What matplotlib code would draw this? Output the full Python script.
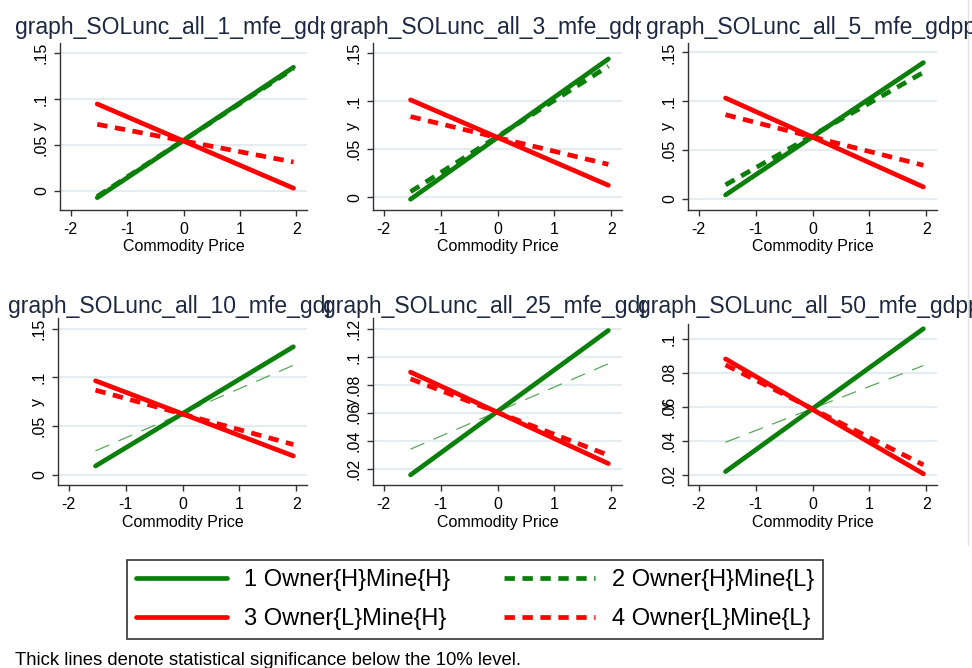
import matplotlib
matplotlib.use("Agg")
import matplotlib.pyplot as plt
from matplotlib.ticker import FixedLocator, FuncFormatter
from matplotlib.transforms import Bbox, TransformedBbox

plt.rcParams["font.family"] = ["Liberation Sans", "DejaVu Sans"]

# ---- data -------------------------------------------------------------
horizons = [1, 3, 5, 10, 25, 50]
price_range = [-1.53, 1.95]

# fitted y at the low / high end of the commodity price range
owner_h_mine_h = [(-0.0073, 0.1345), (-0.0020, 0.1440), (0.0041, 0.1395),
                  (0.0092, 0.1315), (0.0157, 0.1190), (0.0220, 0.1062)]
owner_h_mine_l = [(-0.0060, 0.1330), (0.0058, 0.1365), (0.0144, 0.1295),
                  (0.0247, 0.1125), (0.0341, 0.0952), (0.0393, 0.0845)]
owner_l_mine_h = [(0.0946, 0.0030), (0.1014, 0.0125), (0.1033, 0.0123),
                  (0.0966, 0.0195), (0.0892, 0.0238), (0.0884, 0.0207)]
owner_l_mine_l = [(0.0725, 0.0315), (0.0840, 0.0343), (0.0862, 0.0345),
                  (0.0870, 0.0312), (0.0844, 0.0298), (0.0849, 0.0260)]
# whether the Owner{H}Mine{L} effect is significant at 10%
hl_significant = [True, True, True, False, False, False]

y_ticks = [[0, 0.05, 0.10, 0.15]] * 4 + [[0.02, 0.04, 0.06, 0.08, 0.10, 0.12],
                                         [0.02, 0.04, 0.06, 0.08, 0.10]]
y_limits = [(-0.0207, 0.1609), (-0.0132, 0.1606), (-0.0113, 0.1596),
            (-0.0103, 0.1610), (0.0085, 0.1279), (0.0141, 0.1090)]
x_ticks = [-2, -1, 0, 1, 2]

series_labels = ["1 Owner{H}Mine{H}", "2 Owner{H}Mine{L}",
                 "3 Owner{L}Mine{H}", "4 Owner{L}Mine{L}"]

# ---- layout -----------------------------------------------------------
W, H = 972, 668
fig = plt.figure(figsize=(W / 100, H / 100), dpi=100)
fig.patch.set_facecolor("white")

# (left, top, right, bottom) in pixels
rects = [(60, 43, 307, 210), (373, 43, 622, 210), (688, 43, 937, 210),
         (58, 318, 307, 485), (373, 318, 622, 485), (688, 324, 937, 485)]
# title start x, baseline y, clip-left, clip-right
title_pos = [(15, 34, 0, 325), (330, 34, 326, 641), (646, 34, 642, 972),
             (8, 313, 0, 331), (323, 313, 316, 646), (638, 313, 632, 972)]

GREEN = "#0a800a"
GREEN_THIN = "#5aa85a"
RED = "#ff0000"
AXCOL = "#333333"
GRID = "#e4ecef"
TITLE_COL = "#1c2841"
THICK = 3.4
XLABEL_DROP = 37   # px from bottom spine to x-label centre
YLABEL_SHIFT = 21  # px from left spine to y-label centre


def stata_fmt(v, _pos=None):
    s = f"{v:.2f}".rstrip("0").rstrip(".")
    if s.startswith("0."):
        s = s[1:]
    if s.startswith("-0."):
        s = "-" + s[2:]
    return s


legend_handles = None
for i, h in enumerate(horizons):
    l, t, r, b = rects[i]
    ax = fig.add_axes([l / W, 1 - b / H, (r - l) / W, (b - t) / H])
    ax.set_facecolor("white")

    ln_hl, = ax.plot(price_range, owner_h_mine_l[i],
                     color=GREEN if hl_significant[i] else GREEN_THIN,
                     lw=THICK if hl_significant[i] else 0.9,
                     dashes=(2.2, 1.6) if hl_significant[i] else (12, 8),
                     solid_capstyle="butt", zorder=3)
    ln_ll, = ax.plot(price_range, owner_l_mine_l[i], color=RED, lw=THICK,
                     dashes=(2.2, 1.6), zorder=3)
    ln_hh, = ax.plot(price_range, owner_h_mine_h[i], color=GREEN, lw=THICK,
                     solid_capstyle="round", zorder=4)
    ln_lh, = ax.plot(price_range, owner_l_mine_h[i], color=RED, lw=THICK,
                     solid_capstyle="round", zorder=4)
    if i == 0:
        legend_handles = [ln_hh, ln_lh, ln_hl, ln_ll]

    ax.set_xlim(-2.19, 2.19)
    ax.set_ylim(*y_limits[i])
    ax.xaxis.set_major_locator(FixedLocator(x_ticks))
    ax.yaxis.set_major_locator(FixedLocator(y_ticks[i]))
    ax.xaxis.set_major_formatter(FuncFormatter(lambda v, p: f"{v:g}"))
    ax.yaxis.set_major_formatter(FuncFormatter(stata_fmt))

    for side in ("top", "right"):
        ax.spines[side].set_visible(False)
    for side in ("left", "bottom"):
        ax.spines[side].set_color(AXCOL)
        ax.spines[side].set_linewidth(1.0)

    ax.grid(axis="y", color=GRID, lw=1.5, zorder=0)
    ax.set_axisbelow(True)
    ax.tick_params(axis="both", direction="out", length=4, width=1.0,
                   color=AXCOL, labelsize=11.5, labelcolor="black")
    ax.tick_params(axis="x", pad=4.5)
    ax.tick_params(axis="y", pad=4)
    for lab in ax.get_yticklabels():
        lab.set_rotation(90)
        lab.set_va("center")

    ax.set_xlabel("Commodity Price", fontsize=11.5, va="center")
    ax.xaxis.set_label_coords(0.5, -XLABEL_DROP / (b - t))
    ax.set_ylabel("y", fontsize=11.5, va="center", rotation=90)
    ax.yaxis.set_label_coords(-YLABEL_SHIFT / (r - l), 0.5)

    tx, ty, c0, c1 = title_pos[i]
    ttl = fig.text(tx / W, 1 - ty / H, f"graph_SOLunc_all_{h}_mfe_gdppc",
                   fontsize=16.5, color=TITLE_COL, ha="left", va="baseline")
    clip = Bbox([[c0 / W, 0], [c1 / W, 1]])
    ttl.set_clip_box(TransformedBbox(clip, fig.transFigure))
    ttl.set_clip_on(True)

# faint border on the right edge of the panel block
fig.add_artist(plt.Line2D([968 / W, 968 / W], [1 - 545 / H, 1.0],
                          transform=fig.transFigure, color="#e2e2e2", lw=1))

leg = fig.legend(legend_handles, [series_labels[0], series_labels[2],
                                  series_labels[1], series_labels[3]],
                 ncol=2, loc="upper left",
                 bbox_to_anchor=(127 / W, 1 - 560 / H), borderaxespad=0,
                 fontsize=17, frameon=True, fancybox=False,
                 handlelength=3.85, handletextpad=0.72, columnspacing=2.3,
                 labelspacing=0.72, borderpad=0.38)
leg.get_frame().set_edgecolor("black")
leg.get_frame().set_linewidth(1.2)

fig.text(15 / W, 1 - 665 / H,
         "Thick lines denote statistical significance below the 10% level.",
         fontsize=13.3, ha="left", va="baseline", color="black")

fig.savefig("out.png", dpi=100, facecolor="white")
